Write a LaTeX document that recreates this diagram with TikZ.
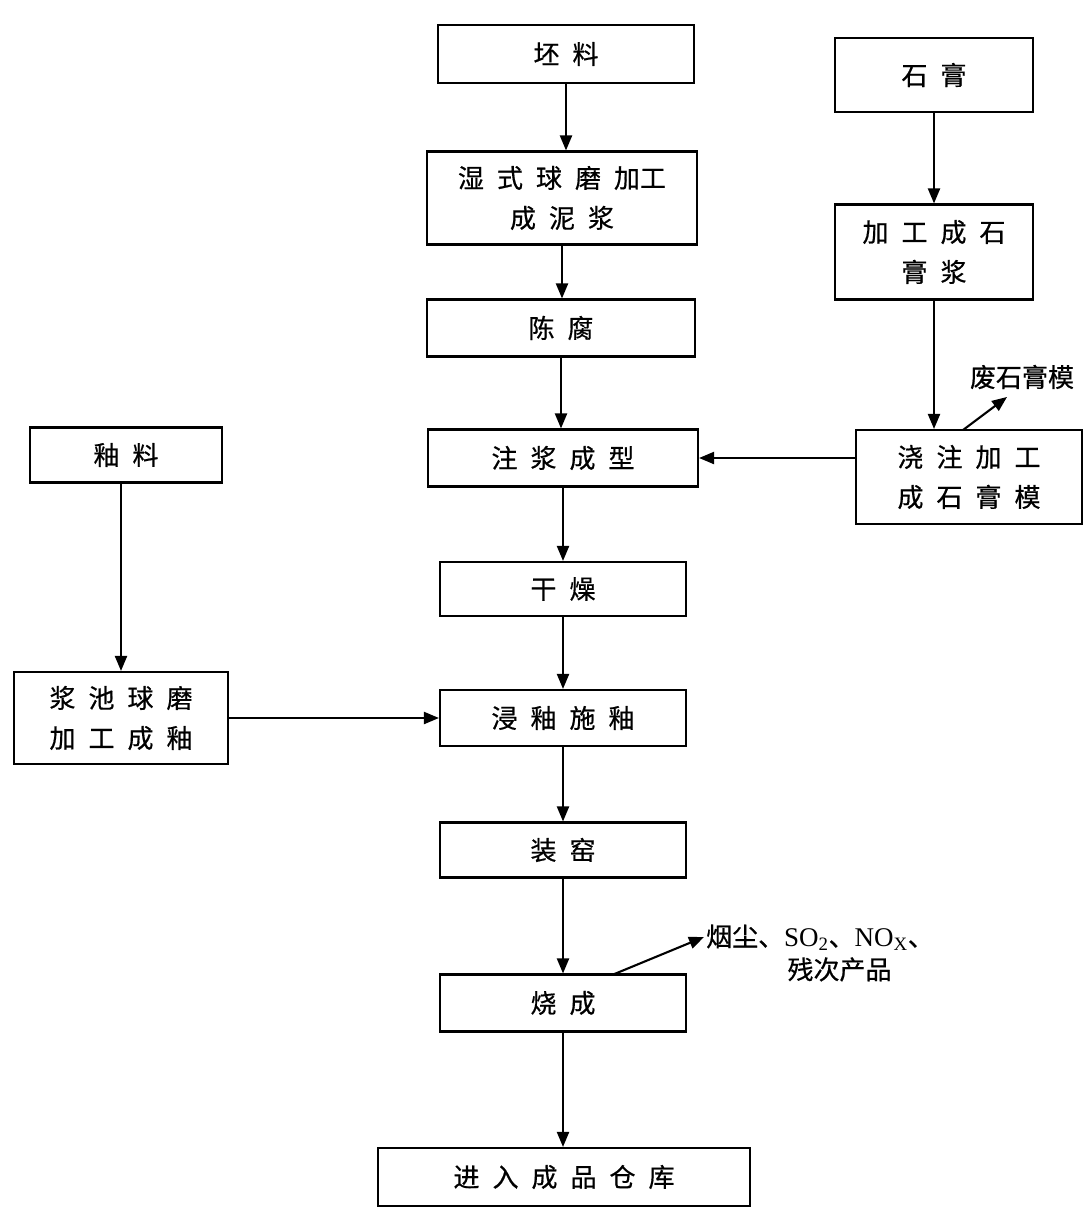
\documentclass[tikz,border=0pt]{standalone}
\usepackage{fontspec}
\setmainfont{Liberation Serif}
\newfontfamily\cjk[FakeBold=0.6]{Noto Sans CJK SC}
\usetikzlibrary{arrows.meta,calc}
\newcommand\gp{\hspace{0.5em}}
\begin{document}
\begin{tikzpicture}[x=1pt,y=-1pt,
  box/.style={draw,line width=2.1pt,rectangle,inner sep=0pt,align=center,
    font=\cjk\fontsize{26}{40}\selectfont},
  arr/.style={line width=2.1pt,-{Triangle[length=15pt,width=12pt]}},
  lbl/.style={font=\cjk\fontsize{26}{33}\selectfont,inner sep=0pt,align=center}]
\useasboundingbox (0,0) rectangle (1085,1207);
\node[box,minimum width=256pt,minimum height=58pt] (pi) at (566,54) {坯\gp 料};
\node[box,minimum width=270pt,minimum height=93pt] (shi) at (562,198) {湿\gp 式\gp 球\gp 磨\gp 加工\\成\gp 泥\gp 浆};
\node[box,minimum width=268pt,minimum height=57pt] (chen) at (561,328) {陈\gp 腐};
\node[box,minimum width=270pt,minimum height=57pt] (zhu) at (563,458) {注\gp 浆\gp 成\gp 型};
\node[box,minimum width=246pt,minimum height=54pt] (gan) at (563,589) {干\gp 燥};
\node[box,minimum width=246pt,minimum height=56pt] (jin) at (563,718) {浸\gp 釉\gp 施\gp 釉};
\node[box,minimum width=246pt,minimum height=55pt] (zy) at (563,850) {装\gp 窑};
\node[box,minimum width=246pt,minimum height=57pt] (shao) at (563,1003) {烧\gp 成};
\node[box,minimum width=372pt,minimum height=58pt] (ku) at (564,1177) {进\gp 入\gp 成\gp 品\gp 仓\gp 库};
\node[box,minimum width=198pt,minimum height=74pt] (sg) at (934,75) {石\gp 膏};
\node[box,minimum width=198pt,minimum height=95pt] (sgj) at (934,252) {加\gp 工\gp 成\gp 石\\膏\gp 浆};
\node[box,minimum width=226pt,minimum height=94pt] (jz) at (969,477) {浇\gp 注\gp 加\gp 工\\成\gp 石\gp 膏\gp 模};
\node[box,minimum width=192pt,minimum height=55pt] (you) at (126,455) {釉\gp 料};
\node[box,minimum width=214pt,minimum height=92pt] (jc) at (121,718) {浆\gp 池\gp 球\gp 磨\\加\gp 工\gp 成\gp 釉};
\node[lbl] (fs) at (1022,377) {废石膏模};
\node[lbl,anchor=west] (yc) at (706,953) {烟尘、{\fontsize{27}{33}\selectfont\rmfamily SO\textsubscript{2}}、{\fontsize{27}{33}\selectfont\rmfamily NO\textsubscript{X}}、\\\hspace{1.5em}残次产品};
\coordinate (fsend) at (1007,397);
\coordinate (fsstart) at (963,430);
\coordinate (ycstart) at (612,975);
\coordinate (ycend) at (704,937);
\draw[arr] (pi.south) -- (pi.south |- shi.north);
\draw[arr] (shi.south) -- (shi.south |- chen.north);
\draw[arr] (chen.south) -- (chen.south |- zhu.north);
\draw[arr] (zhu) -- (gan);
\draw[arr] (gan) -- (jin);
\draw[arr] (jin) -- (zy);
\draw[arr] (zy) -- (shao);
\draw[arr] (shao.south) -- (shao.south |- ku.north);
\draw[arr] (sg) -- (sgj);
\draw[arr] (sgj.south) -- (sgj.south |- jz.north);
\draw[arr] (jz.west |- zhu.east) -- (zhu.east);
\draw[arr] (jc.north |- you.south) -- (jc.north);
\draw[arr] (jc.east) -- (jin.west);
\draw[arr] (fsstart) -- (fsend);
\draw[arr] (ycstart) -- (ycend);
\end{tikzpicture}
\end{document}
